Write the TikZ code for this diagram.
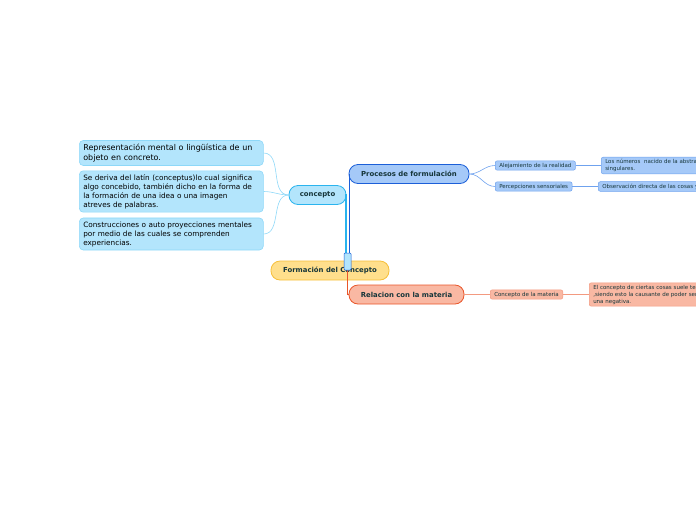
\documentclass[tikz,border=0pt]{standalone}
\usepackage{fontspec}
\setmainfont{DejaVu Sans}
\usepackage{xcolor}
\usetikzlibrary{positioning}
\definecolor{txtDark}{HTML}{16363A}
\definecolor{rootFill}{HTML}{FFDF8C}
\definecolor{rootLine}{HTML}{F6BF3A}
\definecolor{conFill}{HTML}{B3E5FC}
\definecolor{conLine}{HTML}{2AB4EE}
\definecolor{leafLine}{HTML}{8ED8F8}
\definecolor{procFill}{HTML}{A5C9F8}
\definecolor{procLine}{HTML}{1C5FD8}
\definecolor{procSub}{HTML}{6FA2EE}
\definecolor{relFill}{HTML}{F9B8A3}
\definecolor{relLine}{HTML}{E9562A}
\definecolor{relSub}{HTML}{F39A80}

\begin{document}
\begin{tikzpicture}[x=1pt,y=-1pt,
    mainbox/.style={rounded corners=9pt,line width=0.8pt,minimum height=19pt,
                    inner xsep=6pt,text=txtDark,
                    font=\fontsize{6.9}{8}\selectfont\bfseries},
    leafbox/.style={rounded corners=4pt,draw=leafLine,fill=conFill,line width=0.6pt,
                    text width=176pt,align=left,inner xsep=4pt,inner ysep=3.5pt,
                    text=black,font=\fontsize{7.3}{9}\selectfont},
    tipbox/.style={rounded corners=2pt,line width=0.5pt,align=left,
                   inner xsep=4pt,inner ysep=2pt,text=txtDark,
                   font=\fontsize{5.5}{7}\selectfont},
    cline/.style={line width=0.6pt}
  ]
  \useasboundingbox (0,0) rectangle (696,520);
  %% Central topic and its handle
  \node[mainbox,fill=rootFill,draw=rootLine,minimum width=118pt] (root) at (330,270.5) {Formación del Concepto};
  %% Main branches
  \node[mainbox,fill=conFill,draw=conLine,minimum width=57pt] (conc) at (317.5,195) {concepto};
  \node[mainbox,fill=procFill,draw=procLine,minimum width=120pt] (proc) at (409,174) {Procesos de formulación};
  \node[mainbox,fill=relFill,draw=relLine,minimum width=115pt] (rel) at (406.5,294.5) {Relacion con la materia};
  %% Left leaves of concepto
  \node[leafbox,font=\fontsize{8}{10}\selectfont,anchor=west] (rep) at (79,153)
    {Representación mental o lingüística de un\\objeto en concreto.};
  \node[leafbox,anchor=west] (lat) at (79,191.5)
    {Se deriva del latín (conceptus)lo cual significa\\algo concebido, también dicho en la forma de\\la formación de una idea o una imagen\\atreves de palabras.};
  \node[leafbox,anchor=west] (cons) at (79,234)
    {Construcciones o auto proyecciones mentales\\por medio de las cuales se comprenden\\experiencias.};
  %% Leaves of Procesos de formulacion
  \node[tipbox,fill=procFill,draw=procSub,anchor=west] (alej) at (495,165.5) {Alejamiento de la realidad};
  \node[tipbox,fill=procFill,draw=procSub,anchor=west] (perc) at (495,186.5) {Percepciones sensoriales};
  \node[tipbox,fill=procFill,draw=procSub,anchor=west,text width=140pt] (num) at (601,165.5)
    {Los números\ \ nacido de la abstracción\\singulares.};
  \node[tipbox,fill=procFill,draw=procSub,anchor=west,text width=140pt] (obs) at (598,186.5)
    {Observación directa de las cosas y};
  %% Leaves of Relacion con la materia
  \node[tipbox,fill=relFill,draw=relSub,anchor=west] (cmat) at (490,294.5) {Concepto de la materia};
  \node[tipbox,fill=relFill,draw=relSub,anchor=west,text width=140pt] (ecc) at (589,294.5)
    {El concepto de ciertas cosas suele tener\\,siendo esto la causante de poder ser\\una negativa.};
  %% Connectors from the handle
  \coordinate (hdl) at (347.5,261.5);
  \draw[conLine,line width=1.4pt] ([xshift=-1.5pt]hdl) |- (conc.east);
  \draw[procLine,line width=0.8pt] ([xshift=1.5pt]hdl) |- (proc.west);
  \draw[relLine,line width=0.8pt] (hdl) |- (rel.west);
  \node[draw=procLine,fill=conFill,rounded corners=1pt,line width=0.5pt,
        minimum width=7pt,minimum height=17pt,inner sep=0pt] (hnd) at (hdl) {};
  %% concepto to its leaves
  \draw[cline,leafLine] (conc.west) to[out=180,in=0] (rep.east);
  \draw[cline,leafLine] (conc.west) to[out=180,in=0] (lat.east);
  \draw[cline,leafLine] (conc.west) to[out=180,in=0] (cons.east);
  %% Procesos to its leaves
  \draw[cline,procSub] (proc.east) to[out=0,in=180] (alej.west);
  \draw[cline,procSub] (proc.east) to[out=0,in=180] (perc.west);
  \draw[cline,procSub] (alej) -- (num);
  \draw[cline,procSub] (perc) -- (obs);
  %% Relacion to its leaves
  \draw[cline,relSub] (rel) -- (cmat);
  \draw[cline,relSub] (cmat) -- (ecc);
\end{tikzpicture}
\end{document}
